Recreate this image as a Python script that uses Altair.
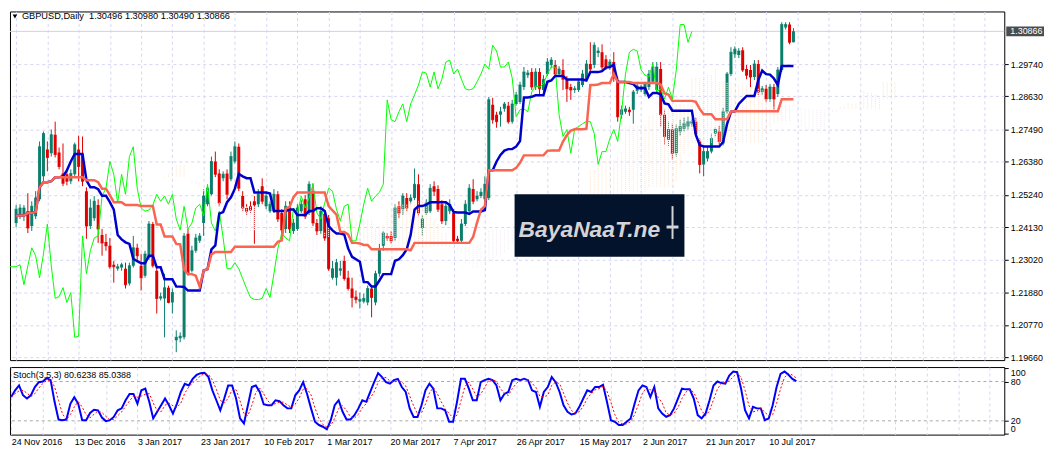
import altair as alt
import pandas as pd

# ---------------- data ----------------
open_ = [
    1.2427, 1.2451, 1.2455, 1.2468, 1.2417, 1.2451, 1.2509, 1.2588, 1.2680, 1.2667,
    1.2731, 1.2670, 1.2598, 1.2595, 1.2571, 1.2595, 1.2680, 1.2663, 1.2537, 1.2417,
    1.2444, 1.2489, 1.2386, 1.2362, 1.2349, 1.2284, 1.2270, 1.2274, 1.2270, 1.2219,
    1.2280, 1.2342, 1.2280, 1.2246, 1.2308, 1.2424, 1.2263, 1.2168, 1.2168, 1.2205,
    1.2154, 1.2024, 1.2031, 1.2034, 1.2390, 1.2263, 1.2332, 1.2366, 1.2427, 1.2492,
    1.2526, 1.2639, 1.2598, 1.2581, 1.2598, 1.2578, 1.2639, 1.2690, 1.2520, 1.2479,
    1.2485, 1.2502, 1.2492, 1.2554, 1.2485, 1.2468, 1.2468, 1.2526, 1.2462, 1.2407,
    1.2485, 1.2400, 1.2407, 1.2468, 1.2509, 1.2462, 1.2537, 1.2427, 1.2400, 1.2458,
    1.2444, 1.2239, 1.2239, 1.2263, 1.2297, 1.2239, 1.2202, 1.2174, 1.2157, 1.2157,
    1.2154, 1.2202, 1.2154, 1.2253, 1.2349, 1.2383, 1.2383, 1.2376, 1.2485, 1.2475,
    1.2513, 1.2502, 1.2513, 1.2561, 1.2410, 1.2462, 1.2468, 1.2554, 1.2544, 1.2492,
    1.2434, 1.2468, 1.2462, 1.2373, 1.2366, 1.2424, 1.2468, 1.2544, 1.2509, 1.2520,
    1.2509, 1.2513, 1.2834, 1.2800, 1.2800, 1.2820, 1.2831, 1.2776, 1.2837, 1.2844,
    1.2895, 1.2936, 1.2947, 1.2895, 1.2947, 1.2885, 1.2940, 1.2971, 1.2971, 1.2940,
    1.2954, 1.2922, 1.2895, 1.2885, 1.2885, 1.2902, 1.2922, 1.2974, 1.2971, 1.3012,
    1.3015, 1.2991, 1.2964, 1.2981, 1.2919, 1.2800, 1.2810, 1.2817, 1.2817, 1.2882,
    1.2885, 1.2871, 1.2895, 1.2913, 1.2885, 1.2957, 1.2800, 1.2714, 1.2749, 1.2667,
    1.2742, 1.2752, 1.2759, 1.2769, 1.2776, 1.2708, 1.2629, 1.2649, 1.2673, 1.2735,
    1.2742, 1.2701, 1.2810, 1.2940, 1.3008, 1.3005, 1.3022, 1.2957, 1.2954, 1.2930,
    1.2974, 1.2878, 1.2889, 1.2854, 1.2895, 1.2871, 1.2954, 1.3100, 1.3110, 1.30496,
]
high = [
    1.2489, 1.2492, 1.2489, 1.2530, 1.2502, 1.2537, 1.2708, 1.2742, 1.2708, 1.2749,
    1.2776, 1.2687, 1.2701, 1.2605, 1.2612, 1.2704, 1.2728, 1.2725, 1.2550, 1.2509,
    1.2520, 1.2509, 1.2407, 1.2390, 1.2376, 1.2297, 1.2287, 1.2291, 1.2291, 1.2291,
    1.2383, 1.2356, 1.2321, 1.2332, 1.2434, 1.2431, 1.2280, 1.2188, 1.2253, 1.2212,
    1.2202, 1.2058, 1.2051, 1.2393, 1.2407, 1.2349, 1.2390, 1.2393, 1.2544, 1.2554,
    1.2656, 1.2673, 1.2612, 1.2605, 1.2612, 1.2673, 1.2708, 1.2701, 1.2537, 1.2492,
    1.2502, 1.2520, 1.2544, 1.2581, 1.2530, 1.2502, 1.2544, 1.2537, 1.2475, 1.2502,
    1.2502, 1.2441, 1.2492, 1.2506, 1.2523, 1.2571, 1.2564, 1.2441, 1.2485, 1.2468,
    1.2455, 1.2297, 1.2304, 1.2297, 1.2315, 1.2263, 1.2239, 1.2195, 1.2188, 1.2185,
    1.2212, 1.2212, 1.2263, 1.2356, 1.2400, 1.2393, 1.2400, 1.2492, 1.2502, 1.2530,
    1.2530, 1.2526, 1.2615, 1.2595, 1.2455, 1.2509, 1.2561, 1.2571, 1.2557, 1.2506,
    1.2502, 1.2509, 1.2475, 1.2383, 1.2441, 1.2506, 1.2561, 1.2578, 1.2537, 1.2547,
    1.2588, 1.2861, 1.2858, 1.2810, 1.2827, 1.2844, 1.2844, 1.2851, 1.2878, 1.2913,
    1.2964, 1.2954, 1.2960, 1.2960, 1.2960, 1.2936, 1.2995, 1.2998, 1.2988, 1.2967,
    1.2991, 1.2933, 1.2906, 1.2899, 1.2922, 1.2954, 1.2988, 1.3049, 1.3049, 1.3032,
    1.3042, 1.3005, 1.2991, 1.3015, 1.2930, 1.2831, 1.2831, 1.2827, 1.2885, 1.2913,
    1.2902, 1.2913, 1.2954, 1.2981, 1.2981, 1.2981, 1.2817, 1.2776, 1.2769, 1.2766,
    1.2783, 1.2790, 1.2793, 1.2786, 1.2790, 1.2718, 1.2690, 1.2690, 1.2735, 1.2755,
    1.2762, 1.2824, 1.2947, 1.3032, 1.3035, 1.3029, 1.3032, 1.2971, 1.2971, 1.2988,
    1.2988, 1.2899, 1.2902, 1.2906, 1.2906, 1.2964, 1.3118, 1.3118, 1.3118, 1.30980,
]
low = [
    1.2414, 1.2441, 1.2434, 1.2393, 1.2400, 1.2441, 1.2502, 1.2571, 1.2605, 1.2656,
    1.2653, 1.2612, 1.2554, 1.2557, 1.2561, 1.2588, 1.2571, 1.2554, 1.2373, 1.2407,
    1.2434, 1.2359, 1.2315, 1.2332, 1.2270, 1.2222, 1.2263, 1.2263, 1.2202, 1.2212,
    1.2274, 1.2297, 1.2195, 1.2239, 1.2301, 1.2274, 1.2116, 1.2161, 1.2034, 1.2151,
    1.2116, 1.1983, 1.2017, 1.2027, 1.2246, 1.2257, 1.2325, 1.2359, 1.2383, 1.2485,
    1.2520, 1.2585, 1.2485, 1.2571, 1.2509, 1.2571, 1.2632, 1.2537, 1.2468, 1.2455,
    1.2462, 1.2356, 1.2482, 1.2492, 1.2475, 1.2462, 1.2462, 1.2431, 1.2366, 1.2393,
    1.2393, 1.2390, 1.2400, 1.2462, 1.2441, 1.2455, 1.2417, 1.2386, 1.2390, 1.2366,
    1.2263, 1.2233, 1.2212, 1.2246, 1.2229, 1.2195, 1.2137, 1.2151, 1.2133, 1.2151,
    1.2144, 1.2103, 1.2144, 1.2243, 1.2332, 1.2366, 1.2356, 1.2366, 1.2444, 1.2455,
    1.2468, 1.2492, 1.2506, 1.2451, 1.2383, 1.2455, 1.2462, 1.2520, 1.2465, 1.2424,
    1.2420, 1.2458, 1.2359, 1.2356, 1.2356, 1.2417, 1.2462, 1.2492, 1.2502, 1.2513,
    1.2502, 1.2506, 1.2769, 1.2755, 1.2759, 1.2810, 1.2769, 1.2769, 1.2831, 1.2837,
    1.2885, 1.2926, 1.2885, 1.2885, 1.2868, 1.2871, 1.2933, 1.2960, 1.2930, 1.2930,
    1.2885, 1.2844, 1.2851, 1.2875, 1.2878, 1.2895, 1.2916, 1.2947, 1.2960, 1.2998,
    1.2954, 1.2954, 1.2954, 1.2913, 1.2776, 1.2786, 1.2803, 1.2796, 1.2769, 1.2871,
    1.2878, 1.2865, 1.2885, 1.2906, 1.2878, 1.2759, 1.2697, 1.2690, 1.2646, 1.2656,
    1.2728, 1.2742, 1.2749, 1.2759, 1.2725, 1.2598, 1.2588, 1.2639, 1.2667, 1.2725,
    1.2697, 1.2694, 1.2803, 1.2933, 1.2995, 1.2995, 1.2947, 1.2922, 1.2895, 1.2919,
    1.2868, 1.2868, 1.2844, 1.2844, 1.2817, 1.2861, 1.2947, 1.3093, 1.3042, 1.30490,
]
close = [
    1.2475, 1.2479, 1.2479, 1.2410, 1.2485, 1.2513, 1.2690, 1.2735, 1.2653, 1.2731,
    1.2663, 1.2622, 1.2564, 1.2571, 1.2598, 1.2697, 1.2622, 1.2571, 1.2417, 1.2479,
    1.2502, 1.2407, 1.2359, 1.2349, 1.2277, 1.2277, 1.2277, 1.2284, 1.2215, 1.2280,
    1.2342, 1.2315, 1.2239, 1.2321, 1.2424, 1.2280, 1.2168, 1.2174, 1.2205, 1.2154,
    1.2188, 1.2034, 1.2038, 1.2383, 1.2253, 1.2332, 1.2376, 1.2383, 1.2520, 1.2547,
    1.2639, 1.2595, 1.2496, 1.2595, 1.2526, 1.2656, 1.2690, 1.2547, 1.2479, 1.2468,
    1.2472, 1.2489, 1.2526, 1.2502, 1.2520, 1.2492, 1.2526, 1.2441, 1.2403, 1.2485,
    1.2407, 1.2427, 1.2479, 1.2492, 1.2451, 1.2561, 1.2427, 1.2400, 1.2468, 1.2376,
    1.2270, 1.2270, 1.2291, 1.2270, 1.2236, 1.2202, 1.2171, 1.2164, 1.2164, 1.2168,
    1.2202, 1.2171, 1.2253, 1.2339, 1.2393, 1.2376, 1.2366, 1.2479, 1.2462, 1.2520,
    1.2479, 1.2513, 1.2561, 1.2462, 1.2441, 1.2496, 1.2547, 1.2537, 1.2475, 1.2434,
    1.2485, 1.2492, 1.2366, 1.2366, 1.2424, 1.2492, 1.2547, 1.2502, 1.2520, 1.2533,
    1.2561, 1.2851, 1.2783, 1.2776, 1.2810, 1.2837, 1.2776, 1.2837, 1.2868, 1.2902,
    1.2947, 1.2943, 1.2895, 1.2947, 1.2889, 1.2922, 1.2981, 1.2988, 1.2940, 1.2957,
    1.2922, 1.2889, 1.2885, 1.2889, 1.2913, 1.2940, 1.2974, 1.2957, 1.3039, 1.3019,
    1.2964, 1.2964, 1.2981, 1.2926, 1.2793, 1.2817, 1.2820, 1.2810, 1.2878, 1.2899,
    1.2895, 1.2906, 1.2940, 1.2964, 1.2964, 1.2800, 1.2725, 1.2749, 1.2667, 1.2752,
    1.2759, 1.2769, 1.2776, 1.2776, 1.2735, 1.2629, 1.2673, 1.2673, 1.2718, 1.2749,
    1.2708, 1.2810, 1.2940, 1.3015, 1.3025, 1.3019, 1.2954, 1.2936, 1.2930, 1.2974,
    1.2878, 1.2889, 1.2854, 1.2895, 1.2854, 1.2954, 1.3110, 1.3110, 1.3049, 1.30866,
]
stoch_k = [
    56.5, 66.5, 74, 59, 54, 59, 71.6, 79, 80, 85,
    82, 49, 22, 21, 22, 46, 56, 46, 21, 21,
    32, 37, 36, 25, 19.6, 21, 26, 36, 39, 51.4,
    61, 61, 46, 66.5, 69, 49, 23.7, 33.8, 43.8, 54,
    43.8, 31, 46, 64, 76.6, 74, 84, 90, 92.7, 93.2,
    86.7, 66.5, 51.4, 36, 54, 74, 74, 54, 23.7, 16,
    43.8, 71.6, 74, 64, 45.3, 43.8, 43.8, 51.4, 50, 43.8,
    39, 39, 59, 66.5, 79, 61, 39, 18.6, 13.6, 11,
    7, 21, 43.8, 51.4, 33.8, 22, 22, 28.7, 39, 51.4,
    49, 64, 79, 92.7, 86.7, 79, 76.6, 82, 84, 71.6,
    64, 39, 26, 26, 43.8, 66.5, 76.6, 69, 39, 39,
    36, 18.6, 18.6, 49, 84, 84, 69, 51.4, 51.4, 79,
    82, 84, 82, 74, 51.4, 61, 64, 82, 84, 82,
    84, 82, 66.5, 64, 41.3, 64, 71.6, 86.7, 79, 64,
    43.8, 33.8, 29.7, 31.2, 41.3, 54, 66.5, 64, 71.6, 71.6,
    75, 49, 21, 18.6, 13.6, 13.6, 18.6, 23.7, 46, 66.5,
    74, 71.6, 56.4, 71.6, 39, 31.2, 26.2, 28.7, 39, 54,
    69, 68, 68, 54, 28.7, 23.7, 31.2, 51.4, 74, 80,
    77.6, 76.6, 89.2, 95.2, 94.2, 69, 36.3, 23.7, 41.3, 39,
    39, 21, 23.7, 43.8, 71.6, 91.7, 95.2, 90.2, 84, 80.6,
]
date_labels = [
    "24 Nov 2016", "13 Dec 2016", "3 Jan 2017", "23 Jan 2017", "10 Feb 2017",
    "1 Mar 2017", "20 Mar 2017", "7 Apr 2017", "26 Apr 2017", "15 May 2017",
    "2 Jun 2017", "21 Jun 2017", "10 Jul 2017",
]
price_ticks = [1.29740, 1.28630, 1.27490, 1.26380, 1.25240, 1.24130,
               1.23020, 1.21880, 1.20770, 1.19660]
stoch_ticks = [0, 20, 80, 100]
stoch_levels = [20, 80]
bid = 1.30866
title_text = "GBPUSD,Daily\u00a0\u00a01.30496 1.30980 1.30490 1.30866"
stoch_text = "Stoch(3,5,3) 80.6238 85.0388"

# ---------------- styling ----------------
BULL = "#0b7f6b"
BEAR = "#e00000"
GRID = "#d6d6f2"
FONT = "Liberation Sans"
W = 1001
H_MAIN = 351
H_STO = 68

bars = pd.DataFrame({
    "i": list(range(len(close))),
    "open": open_, "high": high, "low": low, "close": close, "k": stoch_k,
})

grid_vals = list(range(0, 252, 8))
x_scale = alt.Scale(domain=[-0.3, 251.7], nice=False, zero=False)
y_scale = alt.Scale(domain=[1.19557, 1.31551], nice=False, zero=False)
sy_scale = alt.Scale(domain=[-1, 102], nice=False, zero=False)

x_axis_main = alt.Axis(values=grid_vals, labels=False, ticks=False, domain=False,
                       grid=True, gridColor=GRID, gridDash=[3, 3], title=None)
y_axis_main = alt.Axis(orient="right", values=price_ticks, format=".5f", grid=True,
                       gridColor=GRID, gridDash=[3, 3], domain=False, tickSize=4,
                       tickColor="black", labelFont=FONT, labelFontSize=9,
                       labelColor="black", labelPadding=2, labelOverlap=False, title=None)

js_dates = "[" + ",".join("'" + d + "'" for d in date_labels) + "]"
date_expr = ("(datum.value % 16 === 0 && datum.value / 16 < " + str(len(date_labels)) + ") ? "
             + js_dates + "[datum.value / 16] : ''")
x_axis_sto = alt.Axis(
    values=grid_vals, labelExpr=date_expr,
    labelAlign="left", labelFlush=False, labelOverlap=False, ticks=False, domain=False,
    grid=True, gridColor=GRID, gridDash=[3, 3], labelFont=FONT, labelFontSize=9,
    labelColor="black", labelPadding=3, title=None)
y_axis_sto = alt.Axis(
    orient="right", values=stoch_ticks, grid=False, domain=False, tickSize=4,
    tickColor="black", labelFont=FONT, labelFontSize=9, labelColor="black",
    labelPadding=2, labelOverlap=False, labelFlush=False, title=None,
    labelBaseline={"condition": [{"test": "datum.value == 100", "value": "top"},
                                 {"test": "datum.value == 0", "value": "bottom"}],
                   "value": "middle"})


def X(f):
    return alt.X(f, type="quantitative", scale=x_scale, axis=x_axis_main)


def Y(f):
    return alt.Y(f, type="quantitative", scale=y_scale, axis=y_axis_main)


def SX(f):
    return alt.X(f, type="quantitative", scale=x_scale, axis=x_axis_sto)


def SY(f):
    return alt.Y(f, type="quantitative", scale=sy_scale, axis=y_axis_sto)


base = alt.Chart(bars)
ccol = alt.when(alt.datum.close >= alt.datum.open).then(alt.value(BULL)).otherwise(alt.value(BEAR))

wicks = base.mark_rule(strokeWidth=1, clip=True).encode(x=X("i"), y=Y("low"), y2="high", color=ccol)
bodies = base.mark_bar(size=3, clip=True).encode(x=X("i"), y=Y("open"), y2="close", color=ccol)
doji = base.mark_tick(orient="horizontal", size=3, thickness=1, clip=True).encode(
    x=X("i"), y=Y("close"), color=ccol)

srt = [alt.SortField("i")]
ichi = (
    base.transform_window(hh9="max(high)", ll9="min(low)", frame=[-8, 0], sort=srt)
    .transform_window(hh26="max(high)", ll26="min(low)", frame=[-25, 0], sort=srt)
    .transform_window(hh52="max(high)", ll52="min(low)", frame=[-51, 0], sort=srt)
    .transform_calculate(tenkan="(datum.hh9 + datum.ll9) / 2",
                         kijun="(datum.hh26 + datum.ll26) / 2")
    .transform_calculate(spanA="(datum.tenkan + datum.kijun) / 2",
                         spanB="(datum.hh52 + datum.ll52) / 2",
                         xs="datum.i + 26", xc="datum.i - 26")
)
cloud_col = alt.when(alt.datum.spanA >= alt.datum.spanB).then(alt.value("#F4A460")).otherwise(alt.value("#D8BFD8"))
cloud_white = ichi.mark_rule(strokeWidth=1, strokeDash=[1, 1], strokeDashOffset=1, clip=True).encode(
    x=X("xs"), y=Y("spanA"), y2="spanB", color=alt.value("white"))
cloud = ichi.mark_rule(strokeWidth=1, strokeDash=[1, 1], opacity=0.3, clip=True).encode(
    x=X("xs"), y=Y("spanA"), y2="spanB", color=cloud_col)
chikou = ichi.mark_line(color="#00ff00", strokeWidth=1, clip=True).encode(x=X("xc"), y=Y("close"))
tenkan = ichi.mark_line(color="#0000cd", strokeWidth=2.5, clip=True).encode(x=X("i"), y=Y("tenkan"))
kijun = ichi.mark_line(color="#fa6450", strokeWidth=2.5, clip=True).encode(x=X("i"), y=Y("kijun"))

one = alt.Chart(alt.Data(values=[{"bid": bid}]))
bid_line = one.mark_rule(color="#d0d0f0", strokeWidth=1).encode(y=Y("bid"))
bid_box = one.mark_tick(orient="horizontal", size=38, thickness=10, color="black", clip=False).encode(
    x=alt.value(1022), y=Y("bid"))
bid_txt = one.mark_text(align="left", baseline="middle", font=FONT, fontSize=9, color="white", clip=False).encode(
    x=alt.value(1007), y=Y("bid"), text=alt.value("1.30866"))
tri = one.mark_point(shape="triangle-down", filled=True, size=22, color="black", opacity=1).encode(
    x=alt.value(5), y=alt.value(5))
title = one.mark_text(align="left", baseline="middle", font=FONT, fontSize=9.3, color="black").encode(
    x=alt.value(12), y=alt.value(5), text=alt.value(title_text))
logo_box = one.mark_rect(color="#03132b").encode(
    x=alt.value(508), x2=alt.value(679), y=alt.value(184), y2=alt.value(247))
logo_txt = one.mark_text(align="left", baseline="alphabetic", font=FONT, fontSize=23, fontStyle="italic",
                         fontWeight="bold", color="#d4d4d6").encode(
    x=alt.value(512), y=alt.value(227), text=alt.value("BayaNaaT.ne"))
logo_stem = one.mark_rule(color="#d4d4d6", strokeWidth=2).encode(
    x=alt.value(667), y=alt.value(196), y2=alt.value(229))
logo_bar = one.mark_rule(color="#d4d4d6", strokeWidth=3).encode(
    x=alt.value(661), x2=alt.value(673), y=alt.value(217))

main = alt.layer(
    bid_line, wicks, bodies, doji, cloud_white, cloud, chikou, tenkan, kijun,
    tri, title, logo_box, logo_txt, logo_stem, logo_bar, bid_box, bid_txt,
).properties(width=W, height=H_MAIN)

lv = alt.Chart(alt.Data(values=[{"lv": v} for v in stoch_levels])).mark_rule(
    color="#a8a8a8", strokeDash=[3, 3], strokeWidth=1).encode(y=SY("lv"))
k_line = base.mark_line(color="#0000ff", strokeWidth=2, clip=True).encode(x=SX("i"), y=SY("k"))
d_line = base.transform_window(d="mean(k)", frame=[-2, 0], sort=srt).mark_line(
    color="#ff0000", strokeWidth=1, strokeDash=[2, 2], clip=True).encode(x=SX("i"), y=SY("d"))
s_txt = one.mark_text(align="left", baseline="middle", font=FONT, fontSize=9, color="black").encode(
    x=alt.value(3), y=alt.value(8), text=alt.value(stoch_text))
sto = alt.layer(lv, k_line, d_line, s_txt).properties(width=W, height=H_STO)

chart = (
    alt.vconcat(main, sto, spacing=3)
    .properties(padding={"left": 1, "top": 1, "right": 0, "bottom": 0}, background="white")
    .configure_view(stroke="black", strokeWidth=1)
)

chart.save("out.html", embed_options={"renderer": "svg", "actions": False})
